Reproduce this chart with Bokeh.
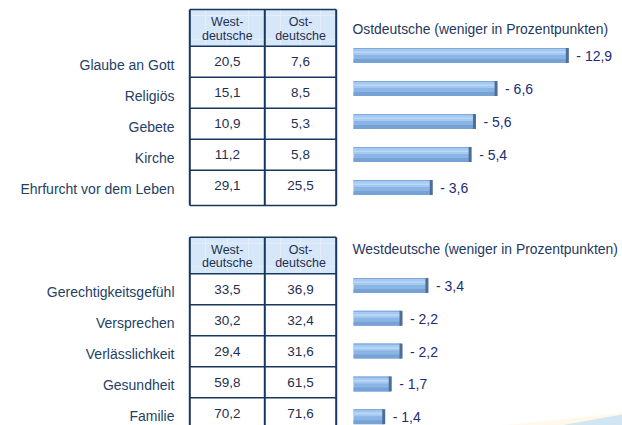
from bokeh.plotting import figure
from bokeh.models import Range1d, ColumnDataSource
from bokeh.core.properties import value
from bokeh.embed import file_html
from bokeh.resources import INLINE
import numpy as np

# ---------------- data ----------------
top_items = ["Glaube an Gott", "Religiös", "Gebete", "Kirche", "Ehrfurcht vor dem Leben"]
top_west = [20.5, 15.1, 10.9, 11.2, 29.1]
top_ost = [7.6, 8.5, 5.3, 5.8, 25.5]
top_diff = [12.9, 6.6, 5.6, 5.4, 3.6]
top_title = "Ostdeutsche (weniger in Prozentpunkten)"

bottom_items = ["Gerechtigkeitsgefühl", "Versprechen", "Verlässlichkeit", "Gesundheit", "Familie"]
bottom_west = [33.5, 30.2, 29.4, 59.8, 70.2]
bottom_ost = [36.9, 32.4, 31.6, 61.5, 71.6]
bottom_diff = [3.4, 2.2, 2.2, 1.7, 1.4]
bottom_title = "Westdeutsche (weniger in Prozentpunkten)"

col_head_1 = ["West-", "deutsche"]
col_head_2 = ["Ost-", "deutsche"]

# ---------------- layout / style ----------------
W, H = 622, 425
FONT = value("Liberation Sans")
NAVY = "#17375E"
LABEL_C = "#243F66"
VALUE_C = "#1F2F4F"
BARLAB_C = "#1C2C78"
TITLE_C = "#1F3864"

BAR_X0 = 353          # page x of bar origin
PX_PER_PP = 21.6      # pixels per percentage point
BAR_CAP = 9.9         # long bar is shown truncated in the original

TX_L, TX_M, TX_R = 189.3, 264.3, 335.7
LABEL_X = 174

p = figure(width=W, height=H, output_backend="svg", toolbar_location=None,
           x_range=Range1d(0, W), y_range=Range1d(H, 0),
           min_border=0, outline_line_color=None, background_fill_color="white",
           border_fill_color="white")
p.axis.visible = False
p.grid.visible = False
pp_start = -BAR_X0 / PX_PER_PP
p.extra_x_ranges = {"pp": Range1d(pp_start, pp_start + W / PX_PER_PP)}


def fmt(v):
    return f"{v:.1f}".replace(".", ",")


def panel(items, west, ost, diff, title, tbl_top, head_bot, row_h, tbl_bot,
          bar_y0, bar_step, title_y):
    n = len(items)
    # header
    p.quad(left=[TX_L], right=[TX_R], top=[tbl_top], bottom=[head_bot],
           fill_color="#D5E7F9", line_color=None)
    # faint grid pattern in header
    for gx in [205, 226.8, 248, 280, 300, 320]:
        p.segment(x0=[gx], y0=[tbl_top], x1=[gx], y1=[head_bot], line_color="#E4EFFB", line_width=1)
    for gy in [tbl_top + 6, head_bot - 7]:
        p.segment(x0=[TX_L], y0=[gy], x1=[TX_R], y1=[gy], line_color="#E4EFFB", line_width=1)
    # header text
    cx1 = (TX_L + TX_M) / 2
    cx2 = (TX_M + TX_R) / 2
    hy = [tbl_top + 12.7, tbl_top + 26]
    p.text(x=[cx1, cx1], y=hy, text=col_head_1, text_font=FONT, text_font_size="12.5px",
           text_align="center", text_baseline="middle", text_color=VALUE_C)
    p.text(x=[cx2, cx2], y=hy, text=col_head_2, text_font=FONT, text_font_size="12.5px",
           text_align="center", text_baseline="middle", text_color=VALUE_C)
    # row lines
    rows = [head_bot + i * row_h for i in range(n)]
    centers = [r + row_h / 2 for r in rows]
    p.segment(x0=[TX_L] * n, y0=rows, x1=[TX_R] * n, y1=rows, line_color=NAVY, line_width=1.6)
    p.segment(x0=[TX_L], y0=[tbl_top], x1=[TX_R], y1=[tbl_top], line_color=NAVY, line_width=1.6)
    p.segment(x0=[TX_L], y0=[tbl_bot], x1=[TX_R], y1=[tbl_bot], line_color=NAVY, line_width=1.6)
    for vx in [TX_L, TX_M, TX_R]:
        p.segment(x0=[vx], y0=[tbl_top], x1=[vx], y1=[tbl_bot], line_color=NAVY, line_width=2)
    # values
    src = ColumnDataSource(dict(y=centers, ly=[c + 3 for c in centers],
                                west=[fmt(v) for v in west], ost=[fmt(v) for v in ost],
                                item=items))
    p.text(x=cx1, y="y", text="west", source=src, text_font=FONT, text_font_size="13.5px",
           text_align="center", text_baseline="middle", text_color=VALUE_C)
    p.text(x=cx2, y="y", text="ost", source=src, text_font=FONT, text_font_size="13.5px",
           text_align="center", text_baseline="middle", text_color=VALUE_C)
    p.text(x=LABEL_X, y="ly", text="item", source=src, text_font=FONT, text_font_size="14px",
           text_align="right", text_baseline="middle", text_color=LABEL_C)
    # title
    p.text(x=[BAR_X0 - 1], y=[title_y], text=[title], text_font=FONT, text_font_size="13.9px",
           text_align="left", text_baseline="middle", text_color=TITLE_C)
    # bars (cylinder look)
    by = np.array([bar_y0 + i * bar_step for i in range(n)])
    blen = np.minimum(np.array(diff), BAR_CAP)
    bs = ColumnDataSource(dict(y=by, y_hi=by - 3.5, y_hl=by - 3.2, y_lo=by + 5.5, y_top=by - 7,
                               ly=by + 0.5, r=blen, lab=["- " + fmt(v) for v in diff]))
    p.hbar(y="y", left=0, right="r", height=15, source=bs, x_range_name="pp",
           fill_color="#8AB5E5", line_color=None)
    p.hbar(y="y_hi", left=0, right="r", height=6, source=bs, x_range_name="pp",
           fill_color="#A5CAF2", line_color=None)
    p.hbar(y="y_hl", left=0, right="r", height=1.5, source=bs, x_range_name="pp",
           fill_color="#BBD8F7", line_color=None)
    p.hbar(y="y_lo", left=0, right="r", height=4, source=bs, x_range_name="pp",
           fill_color="#77A2D6", line_color=None)
    p.hbar(y="y_top", left=0, right="r", height=1, source=bs, x_range_name="pp",
           fill_color="#80A8D9", line_color=None)
    p.rect(x="r", y="y", width=3, width_units="screen", height=15, source=bs, x_range_name="pp",
           fill_color="#4E6E96", line_color=None)
    p.text(x="r", y="ly", text="lab", source=bs, x_range_name="pp", x_offset=9,
           text_font=FONT, text_font_size="14px", text_align="left", text_baseline="middle",
           text_color=BARLAB_C)


panel(top_items, top_west, top_ost, top_diff, top_title,
      tbl_top=9, head_bot=45.7, row_h=31, tbl_bot=205,
      bar_y0=55, bar_step=33, title_y=28)
panel(bottom_items, bottom_west, bottom_ost, bottom_diff, bottom_title,
      tbl_top=236.7, head_bot=273.3, row_h=31, tbl_bot=H + 2,
      bar_y0=285, bar_step=32.8, title_y=248)

# decorative swoosh bottom right
p.patch(x=[500, 560, 622, 622, 540], y=[425, 419, 412, 425, 425], fill_color="#FFF6E6",
        line_color=None, fill_alpha=0.8)
p.patch(x=[560, 622, 622, 585], y=[425, 414, 425, 425], fill_color="#BFDDF5",
        line_color=None, fill_alpha=0.7)

open("out.html", "w").write(file_html(p, INLINE))
